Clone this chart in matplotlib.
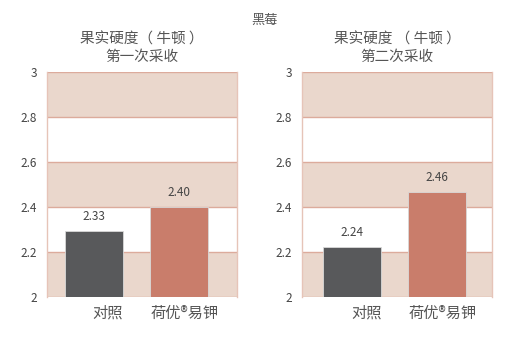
import matplotlib.pyplot as plt

plt.rcParams['font.family'] = ['Noto Sans CJK SC', 'DejaVu Sans']

categories = ['对照', '荷优®易钾']
heights_first = [2.295, 2.40]
heights_second = [2.222, 2.468]
labels_first = ['2.33', '2.40']
labels_second = ['2.24', '2.46']
titles = ['果实硬度（ 牛顿 ）\n第一次采收', '果实硬度 （ 牛顿 ）\n第二次采收']
yticks = [2, 2.2, 2.4, 2.6, 2.8, 3]
ytick_labels = ['2', '2.2', '2.4', '2.6', '2.8', '3']

band_color = '#ead7cc'
line_color = '#dcab9c'
bar_colors = ['#58595b', '#c97d6b']
text_color = '#555555'

W, H = 531, 354
fig = plt.figure(figsize=(W / 100, H / 100), dpi=100)
fig.text(265 / W, 1 - 20 / H, '黑莓', ha='center', va='center',
         fontsize=9.5, color=text_color)

axes_left = [47, 302]
xlim_left = [-0.55, -0.59]
for i, (heights, labels, title) in enumerate(zip([heights_first, heights_second],
                                                 [labels_first, labels_second], titles)):
    left = axes_left[i]
    ax = fig.add_axes([left / W, 1 - 297 / H, 190 / W, 225 / H])
    ax.set_xlim(xlim_left[i], xlim_left[i] + 190 / 85)
    ax.set_ylim(2, 3)
    # alternating bands
    for k in range(5):
        if k % 2 == 0:
            ax.axhspan(yticks[k], yticks[k + 1], color=band_color, lw=0, zorder=0)
    for y in yticks:
        ax.axhline(y, color=line_color, lw=1, zorder=1)
    x = [0, 1]
    ax.bar(x, [h - 2 for h in heights], bottom=2, width=0.68, color=bar_colors,
           zorder=2, edgecolor='#d9d9d9', linewidth=0.6)
    for xi, h, lab in zip(x, heights, labels):
        ax.text(xi, h + 0.035, lab, ha='center', va='bottom', fontsize=8.5,
                color='#444444')
    for xi, cat, off in zip(x, categories, [0.165, 0.07]):
        ax.text(xi + off, 1.928, cat, ha='center', va='center', fontsize=11,
                color=text_color)
    ax.set_yticks(yticks)
    ax.set_yticklabels(ytick_labels, fontsize=8.5, color='#444444')
    ax.tick_params(axis='y', length=0, pad=7)
    ax.set_xticks([])
    for side in ['top', 'bottom']:
        ax.spines[side].set_visible(False)
    for side in ['left', 'right']:
        ax.spines[side].set_color('#e6c4b8')
        ax.spines[side].set_linewidth(1)
    cx = (left + 95) / W
    line1, line2 = title.split('\n')
    fig.text(cx, 1 - 40 / H, line1, ha='center', va='center', fontsize=10.5,
             color=text_color)
    fig.text(cx, 1 - 57 / H, line2, ha='center', va='center', fontsize=10.5,
             color=text_color)

fig.savefig('out.png', dpi=100)
